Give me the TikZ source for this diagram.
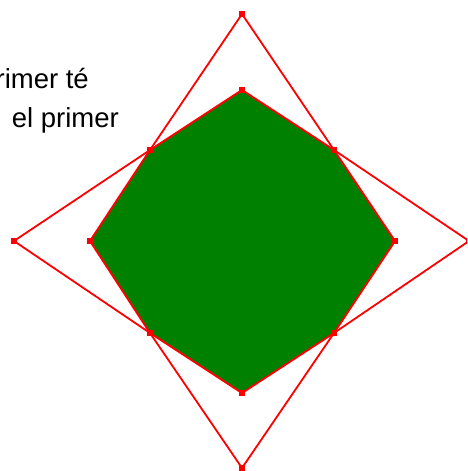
\documentclass[tikz,border=0pt]{standalone}
\usepackage{fontspec}
\setmainfont{Liberation Sans}
\definecolor{octgreen}{RGB}{0,128,0}
\begin{document}
\begin{tikzpicture}[
    x=1pt,
    y=-1pt,
    starline/.style={draw=red,line width=1.8pt,line join=miter},
    octagon/.style={fill=octgreen,draw=red,line width=1.9pt,line join=miter},
    vertexpt/.style={fill=red,inner sep=0pt,minimum size=6pt},
    textlabel/.style={font=\fontsize{27.5}{33}\selectfont,anchor=base east,inner sep=0pt}
  ]
    \useasboundingbox (0,0) rectangle (467,471);
    \clip (0,0) rectangle (467,471);

    % outer points of the star
    \coordinate (sT) at (242,14);
    \coordinate (sR) at (469,241);
    \coordinate (sB) at (242,468);
    \coordinate (sL) at (14,241);
    % inner points, shared with the octagon
    \coordinate (iNE) at (334,150);
    \coordinate (iSE) at (334,333);
    \coordinate (iSW) at (150,333);
    \coordinate (iNW) at (150,150);
    % octagon points on the axes
    \coordinate (oT) at (242,90);
    \coordinate (oR) at (395,241);
    \coordinate (oB) at (242,393);
    \coordinate (oL) at (90,241);

    \draw[starline] (sT) -- (iNE) -- (sR) -- (iSE) -- (sB) -- (iSW)
      -- (sL) -- (iNW) -- cycle;
    \draw[octagon] (oT) -- (iNE) -- (oR) -- (iSE) -- (oB) -- (iSW)
      -- (oL) -- (iNW) -- cycle;

    \foreach \p in {sT,sR,sB,sL,iNE,iSE,iSW,iNW,oT,oR,oB,oL}
      \node[vertexpt] (pt-\p) at (\p) {};

    \node[textlabel] (line1) at (89,88) {rimer té};
    \node[textlabel] (line2) at (119,127) {el primer};
  \end{tikzpicture}
\end{document}
